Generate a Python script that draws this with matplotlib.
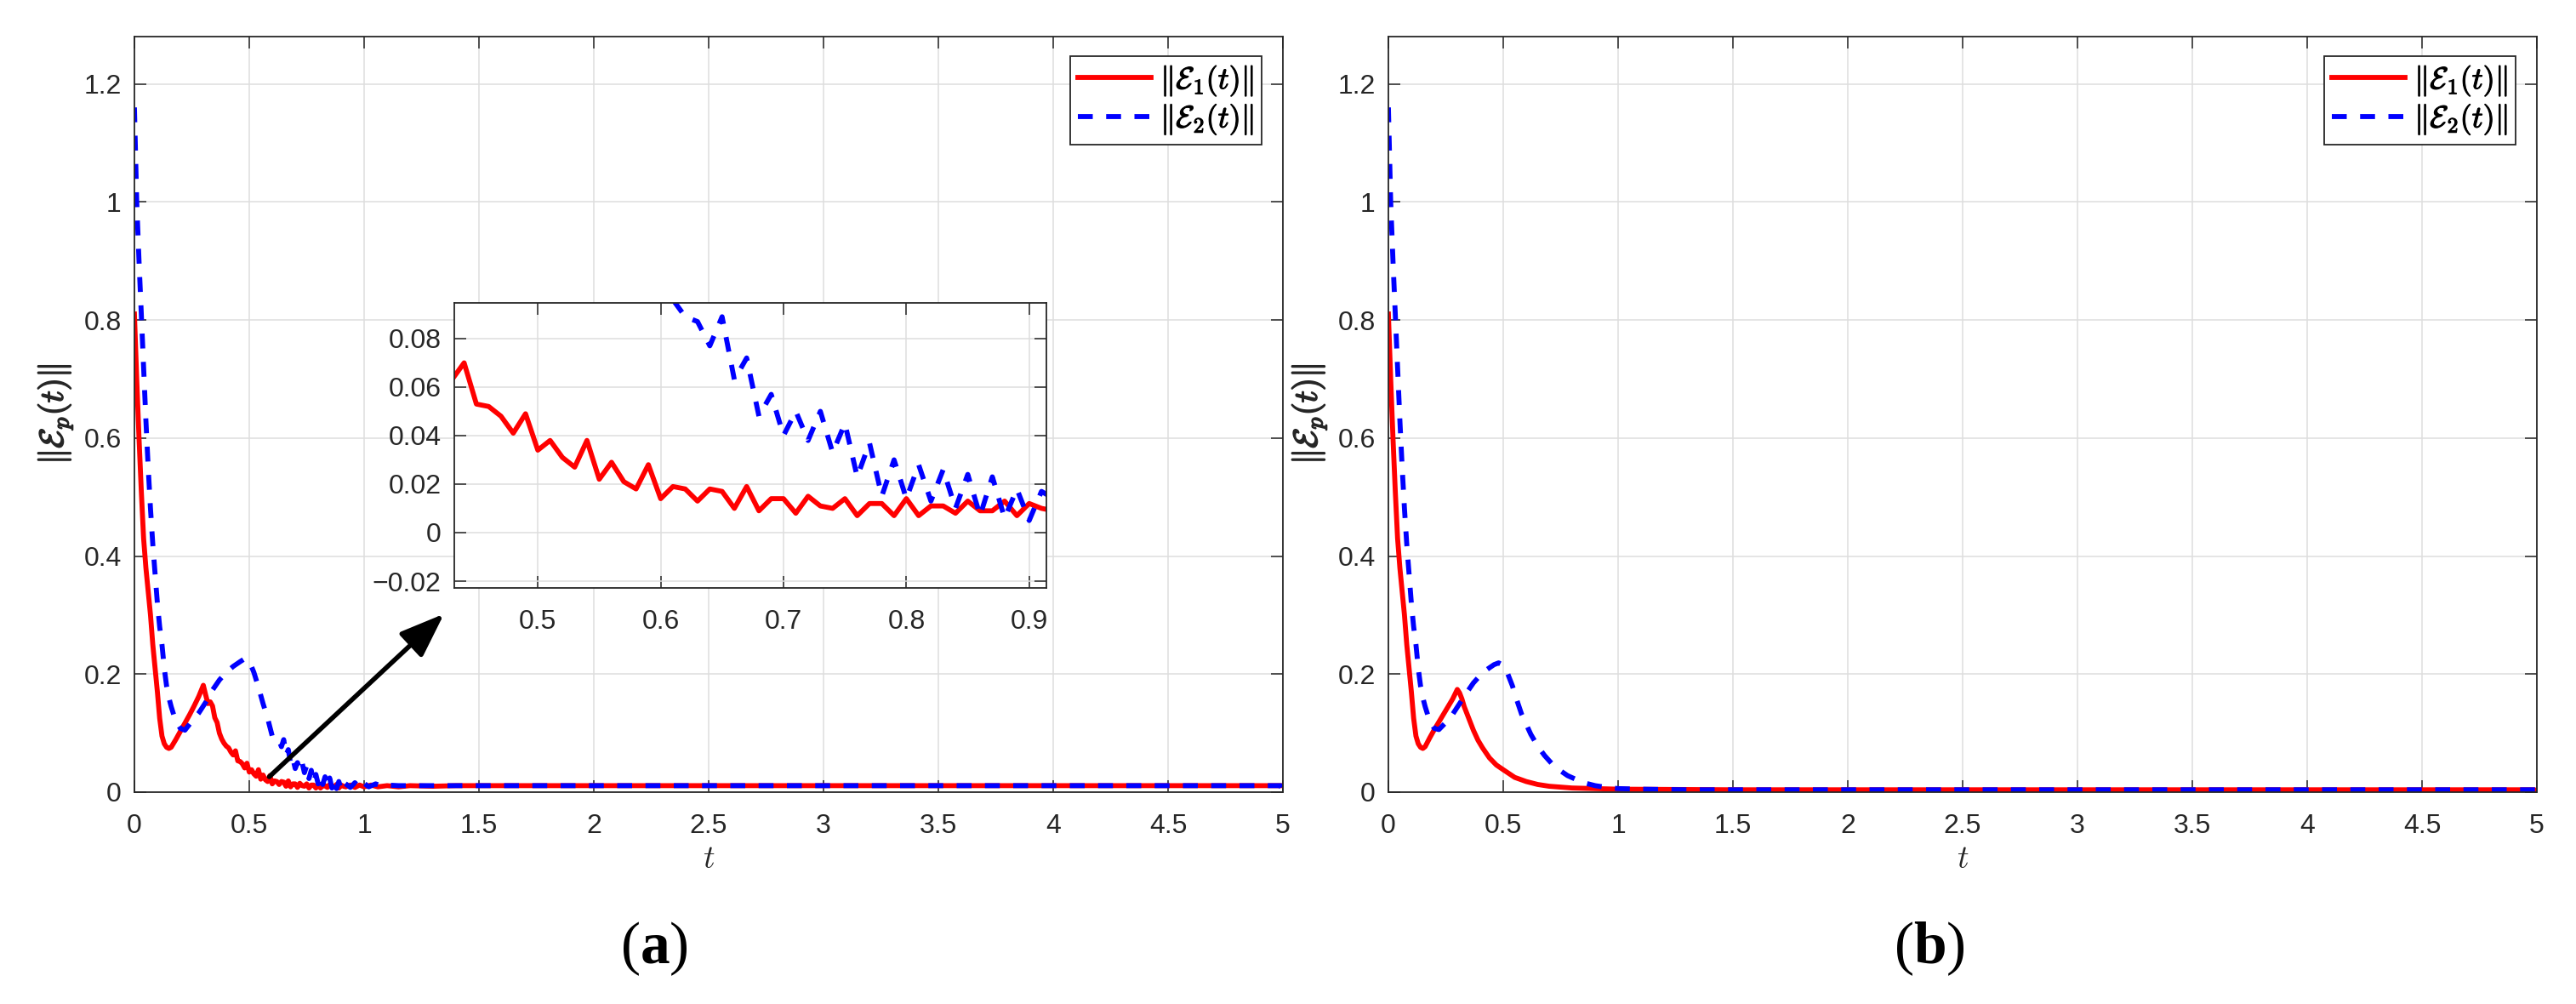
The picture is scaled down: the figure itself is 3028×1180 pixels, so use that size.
import matplotlib
matplotlib.use("Agg")
import matplotlib.pyplot as plt
import matplotlib.patheffects as pe

plt.rcParams['font.family'] = ['Liberation Sans', 'DejaVu Sans']
plt.rcParams['mathtext.fontset'] = 'cm'
plt.rcParams['mathtext.rm'] = 'Liberation Serif'
plt.rcParams['mathtext.bf'] = 'Liberation Serif:bold'

# ---- panel (a) ----
t1_a = [0, .01, .02, .03, .04, .05, .06, .07, .08, .09, .10, .11, .12, .13, .14, .15, .16, .18,
        .20, .22, .24, .26, .28, .30, .31, .32, .33, .34, .35, .36, .37, .38, .39, .40, .41, .42,
        .43, .44, .45, .46, .47, .48, .49, .50, .51, .52, .53, .54, .55, .56, .57, .58, .59, .60,
        .61, .62, .63, .64, .65, .66, .67, .68, .69, .70, .71, .72, .73, .74, .75, .76, .77, .78,
        .79, .80, .81, .82, .83, .84, .85, .86, .87, .88, .89, .90, .91, .92,
        .94, .96, .98, 1.0, 1.03, 1.06, 1.1, 1.15, 1.2, 1.3, 1.4, 1.5, 2, 3, 4, 5]
e1_a = [.81, .70, .60, .51, .43, .38, .34, .30, .25, .21, .17, .125, .095, .082, .076, .074, .076, .089,
        .103, .117, .131, .146, .162, .181, .165, .150, .153, .146, .126, .118, .100, .090, .083, .078, .075, .068,
        .063, .070, .053, .052, .048, .041, .049, .034, .038, .031, .027, .038, .022, .029, .021, .018, .028, .014,
        .019, .018, .013, .018, .017, .010, .019, .009, .014, .014, .008, .015, .011, .010, .014, .007, .012, .012,
        .007, .014, .007, .011, .011, .008, .013, .009, .009, .013, .007, .012, .010, .009,
        .012, .008, .012, .009, .012, .009, .011, .009, .011, .010, .011, .011, .011, .011, .011, .011]

t2_a = [0, .01, .02, .03, .04, .05, .06, .07, .08, .09, .10, .11, .12, .13, .14, .15, .16, .18,
        .20, .22, .25, .28, .31, .34, .37, .40, .43, .46, .48, .50, .52, .54, .56, .58, .59,
        .60, .61, .62, .63, .64, .65, .66, .67, .68, .69, .70, .71, .72, .73, .74, .75, .76, .77,
        .78, .79, .80, .81, .82, .83, .84, .85, .86, .87, .88, .89, .90, .91, .92,
        .94, .96, .98, 1.0, 1.02, 1.05, 1.08, 1.1, 1.15, 1.2, 1.3, 1.5, 2, 3, 4, 4.99, 5]
e2_a = [1.16, 1.0, .90, .81, .72, .63, .55, .48, .42, .37, .32, .28, .25, .21, .18, .16, .145, .12,
        .108, .105, .12, .134, .152, .173, .19, .203, .213, .221, .226, .222, .203, .178, .150, .125, .11,
        .095, .096, .089, .087, .077, .089, .063, .072, .048, .057, .040, .050, .038, .050, .033, .045, .023, .037,
        .015, .030, .014, .028, .013, .026, .010, .024, .007, .023, .006, .018, .005, .017, .014,
        .008, .016, .006, .015, .009, .014, .010, .012, .011, .011, .011, .011, .011, .011, .011, .011, 0]

# ---- panel (b) ----
t1_b = [0, .01, .02, .03, .04, .05, .06, .07, .08, .09, .10, .11, .12, .13, .14, .15, .16, .18,
        .20, .22, .24, .26, .28, .30, .31, .32, .33, .35, .37, .39, .41, .44, .47, .50, .55, .60,
        .65, .70, .80, .90, 1.0, 1.5, 2, 3, 4, 4.99, 5]
e1_b = [.81, .70, .60, .51, .43, .38, .34, .30, .25, .21, .17, .125, .095, .082, .076, .074, .077, .092,
        .106, .119, .132, .145, .158, .174, .168, .158, .145, .125, .105, .088, .075, .058, .046, .038, .025, .018,
        .013, .010, .007, .006, .005, .004, .004, .004, .004, .004, 0]

t2_b = [0, .01, .02, .03, .04, .05, .06, .07, .08, .09, .10, .11, .12, .13, .14, .15, .16, .18,
        .20, .22, .25, .28, .31, .34, .37, .40, .43, .46, .48, .50, .52, .54, .56, .58, .60, .62,
        .65, .68, .71, .75, .78, .82, .86, .90, .95, 1.0, 1.1, 1.3, 2, 3, 4, 5]
e2_b = [1.16, 1.0, .90, .81, .72, .63, .55, .48, .42, .37, .32, .28, .25, .21, .18, .16, .145, .12,
        .108, .106, .118, .132, .150, .168, .185, .198, .208, .216, .219, .215, .200, .180, .155, .132, .115, .098,
        .078, .062, .049, .036, .028, .021, .015, .011, .008, .006, .005, .004, .004, .004, .004, .004]

x_ticks = [0, 0.5, 1, 1.5, 2, 2.5, 3, 3.5, 4, 4.5, 5]
y_ticks = [0, 0.2, 0.4, 0.6, 0.8, 1, 1.2]
ins_x_ticks = [0.5, 0.6, 0.7, 0.8, 0.9]
ins_y_ticks = [-0.02, 0, 0.02, 0.04, 0.06, 0.08]
legend_labels = [r'$\Vert\mathcal{E}_1(t)\Vert$', r'$\Vert\mathcal{E}_2(t)\Vert$']
ylabel = r'$\Vert\mathcal{E}_p(t)\Vert$'

arrow_tail = (0.587, 0.026)
arrow_head = (1.348, 0.302)

LW = 4.2
DASH = (0, (3, 2.7))
DARK = '#262626'


def fmt(v):
    return ('%g' % v).replace('-', '\u2212')


def style(ax, xt, yt, xlim, ylim):
    ax.set_xlim(xlim)
    ax.set_ylim(ylim)
    ax.set_xticks(xt)
    ax.set_xticklabels([fmt(v) for v in xt])
    ax.set_yticks(yt)
    ax.set_yticklabels([fmt(v) for v in yt])
    ax.tick_params(direction='in', length=10, width=1.1, top=True, right=True,
                   labelsize=23, colors=DARK)
    ax.tick_params(axis='x', pad=18)
    ax.tick_params(axis='y', pad=11)
    ax.grid(True, color='#dedede', lw=1.1)
    ax.set_axisbelow(True)
    for s in ax.spines.values():
        s.set_color(DARK)
        s.set_linewidth(1.3)


def panel(ax, t1, e1, t2, e2):
    l1, = ax.plot(t1, e1, color='#ff0000', lw=LW)
    l2, = ax.plot(t2, e2, color='#0000ff', lw=LW, linestyle=DASH)
    style(ax, x_ticks, y_ticks, (0, 5), (0, 1.28))
    ax.set_xlabel('$t$', fontsize=27, labelpad=4, color=DARK)
    ax.set_ylabel(ylabel, fontsize=28, labelpad=8, color=DARK,
                  path_effects=[pe.withStroke(linewidth=1.2, foreground=DARK)])
    leg = ax.legend([l1, l2], legend_labels, loc='upper right', bbox_to_anchor=(0.9815, 0.974),
                    borderaxespad=0, fontsize=26, handlelength=2.4, handletextpad=0.3,
                    borderpad=0.25, labelspacing=0.15, fancybox=False, framealpha=1,
                    edgecolor=DARK)
    leg.get_frame().set_linewidth(1.3)
    for txt in leg.get_texts():
        txt.set_path_effects([pe.withStroke(linewidth=0.8, foreground='black')])


fig = plt.figure(figsize=(30.28, 11.8), dpi=100)
ax_a = fig.add_axes([158 / 3028, 249 / 1180, 1350 / 3028, 888 / 1180])
ax_b = fig.add_axes([1632 / 3028, 249 / 1180, 1350 / 3028, 888 / 1180])

panel(ax_a, t1_a, e1_a, t2_a, e2_a)
panel(ax_b, t1_b, e1_b, t2_b, e2_b)

# zoomed inset in panel (a)
ax_in = fig.add_axes([534 / 3028, 489 / 1180, 696 / 3028, 335 / 1180])
ax_in.plot(t1_a, e1_a, color='#ff0000', lw=LW)
ax_in.plot(t2_a, e2_a, color='#0000ff', lw=LW, linestyle=DASH)
style(ax_in, ins_x_ticks, ins_y_ticks, (0.432, 0.914), (-0.0228, 0.0947))
ax_in.set_facecolor('white')

ax_a.annotate('', xy=arrow_head, xytext=arrow_tail,
              arrowprops=dict(arrowstyle='-|>,head_length=1.6,head_width=0.6', color='black',
                              lw=4, shrinkA=0, shrinkB=0, mutation_scale=20))

fig.text(769 / 3028, 1 - 1115 / 1180, r'$\mathrm{(}\mathbf{a}\mathrm{)}$', math_fontfamily='custom',
         fontsize=50, ha='center', va='center')
fig.text(2268 / 3028, 1 - 1115 / 1180, r'$\mathrm{(}\mathbf{b}\mathrm{)}$', math_fontfamily='custom',
         fontsize=50, ha='center', va='center')

fig.savefig('out.png', dpi=100)
